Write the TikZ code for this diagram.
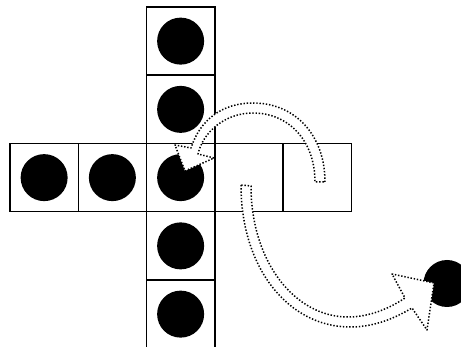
\documentclass[tikz,border=0pt]{standalone}
\begin{document}
\begin{tikzpicture}[x=1pt,y=-1pt,
  cell/.style={draw=black,line width=1.5pt,minimum size=68.25pt,inner sep=0pt,outer sep=0pt},
  disc/.style={circle,fill=black,minimum size=47pt,inner sep=0pt},
  dotarrow/.style={fill=white,draw=black,line width=1.5pt,dash pattern=on 1.4pt off 1.8pt,line join=round}]
\useasboundingbox (0,0) rectangle (461,347);
\clip (0,0) rectangle (461,347);
% column
\node[cell] (v1) at (180.625,41.125) {};
\node[cell] (v2) at (180.625,109.375) {};
\node[cell] (v4) at (180.625,245.875) {};
\node[cell] (v5) at (180.625,314.125) {};
% row
\node[cell] (h1) at (44.125,177.625) {};
\node[cell] (h2) at (112.375,177.625) {};
\node[cell] (h3) at (180.625,177.625) {};
\node[cell] (h4) at (248.875,177.625) {};
\node[cell] (h5) at (317.125,177.625) {};
% discs
\node[disc] (d1) at (v1) {};
\node[disc] (d2) at (v2) {};
\node[disc] (d4) at (v4) {};
\node[disc] (d5) at (v5) {};
\node[disc] (d6) at (h1) {};
\node[disc] (d7) at (h2) {};
\node[disc] (d3) at (h3) {};
\node[disc] (dr) at (447,283.5) {};
% arrow 1: from right cell back to centre
\draw[dotarrow] (325,182) .. controls (325,135) and (295,103) .. (253,103)
  .. controls (222,103) and (200,120) .. (191,148)
  -- (175,145) -- (185,171) -- (214,158) -- (198,154)
  .. controls (203,132) and (225,113) .. (253,113)
  .. controls (288,113) and (315,140) .. (315,182) -- cycle;
% arrow 2: from cell h4 out to the disc on the right
\draw[dotarrow] (241,185) .. controls (241,270) and (290,327) .. (350,327)
  .. controls (375,327) and (395,318) .. (412,308)
  -- (427,330) -- (434,283) -- (392,274) -- (405,298)
  .. controls (390,308) and (370,317) .. (348,317)
  .. controls (295,317) and (251,262) .. (251,186) -- cycle;
\end{tikzpicture}
\end{document}
